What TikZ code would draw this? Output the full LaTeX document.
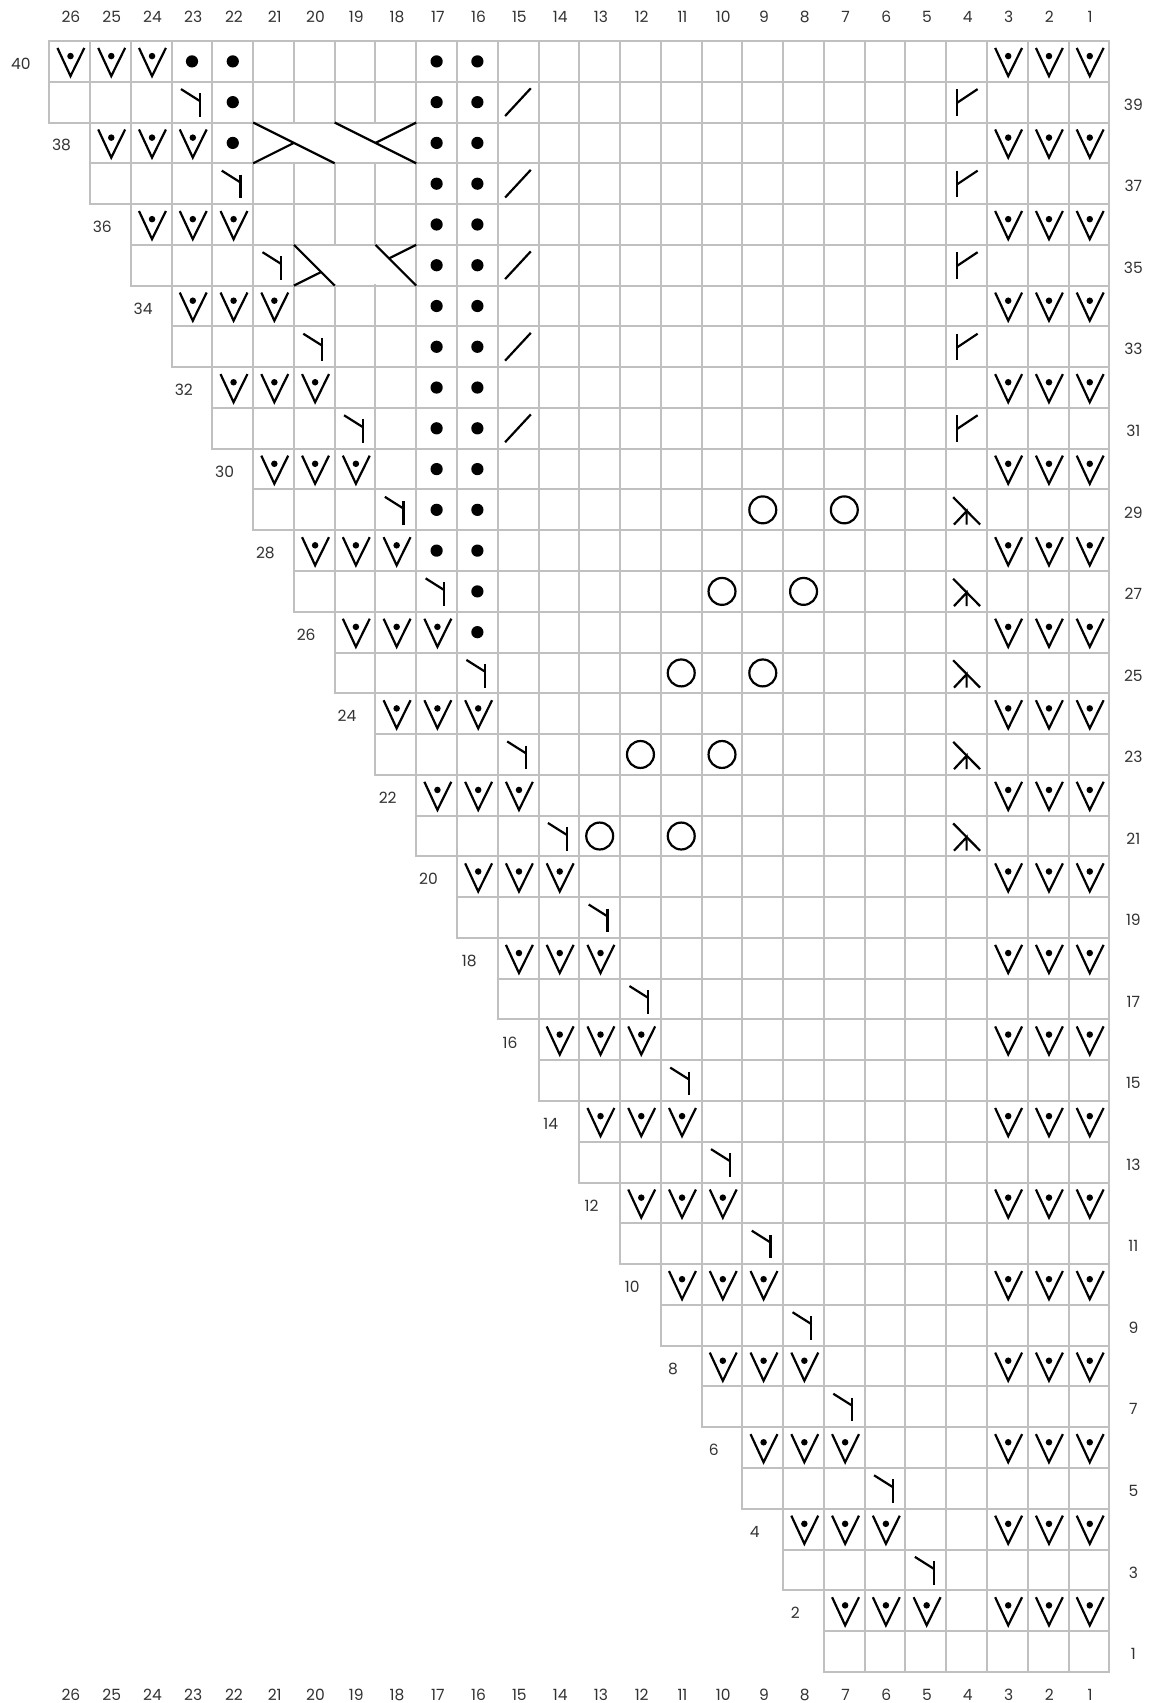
\documentclass[tikz,border=0pt]{standalone}
\usepackage{fontspec}
\setmainfont{Poppins}
\definecolor{gridgray}{RGB}{192,192,192}
\definecolor{labgray}{RGB}{50,50,50}
\begin{document}
\begin{tikzpicture}[x=40.77pt,y=-40.77pt,
  cellbox/.style={draw=gridgray,line width=2pt},
  symline/.style={line width=2.2pt,draw=black},
  lab/.style={font=\fontsize{15.5}{18}\selectfont,text=labgray,inner sep=0pt},
  vdot/.pic={\draw[symline] (0.2,0.17) -- (0.52,0.86) -- (0.86,0.17); \fill[black] (0.52,0.37) circle (0.08);},
  purldot/.pic={\fill[black] (0.5,0.5) circle (0.15);},
  decy/.pic={\draw[symline] (0.23,0.18) -- (0.69,0.47); \draw[symline] (0.69,0.28) -- (0.69,0.86);},
  leanl/.pic={\draw[symline] (0.26,0.18) -- (0.26,0.83); \draw[symline] (0.26,0.52) -- (0.77,0.18);},
  skp/.pic={\draw[symline] (0.17,0.19) -- (0.83,0.86); \draw[symline] (0.19,0.86) -- (0.5,0.53) -- (0.5,0.86);},
  pslash/.pic={\draw[symline] (0.18,0.84) -- (0.81,0.16);},
  yo/.pic={\draw[symline] (0.5,0.5) circle (0.33);}
]
\useasboundingbox[fill=white] (-49.3pt,41pt) rectangle (1105.7pt,-1662pt);

% grid
\foreach \j in {0,...,39}{
  \pgfmathtruncatemacro\s{floor(\j/2)}
  \foreach \i in {\s,...,25}{
    \draw[cellbox] (\i,\j) rectangle ++(1,1);
  }
}
% merged cable cells
\fill[white] (5.03,2.03) rectangle (8.97,2.97);
\fill[white] (6.03,5.03) rectangle (8.97,5.97);

% cable row 38
\draw[symline] (5,2) -- (7,3);
\draw[symline] (5,3) -- (6,2.5);
\draw[symline] (7,2) -- (9,3);
\draw[symline] (9,2) -- (8,2.5);
% cable row 35
\draw[symline] (6,5) -- (7,6);
\draw[symline] (6,6) -- (6.667,5.667);
\draw[symline] (8,5) -- (9,6);
\draw[symline] (9,5) -- (8.333,5.333);

% V with dot
\foreach \j in {0,2,...,38}{
  \pgfmathtruncatemacro\a{\j/2}
  \pic at (\a,\j) {vdot};
  \pic at (\a+1,\j) {vdot};
  \pic at (\a+2,\j) {vdot};
  \pic at (23,\j) {vdot};
  \pic at (24,\j) {vdot};
  \pic at (25,\j) {vdot};
}
% decreases
\foreach \j in {1,3,...,37}{
  \pgfmathtruncatemacro\a{floor(\j/2)+3}
  \pic at (\a,\j) {decy};
}
% purl dots
\foreach \p in {(3,0),(4,0),(4,1),(4,2),(10,13),(10,14)}{
  \pic at \p {purldot};
}
\foreach \j in {0,...,12}{
  \pic at (9,\j) {purldot};
  \pic at (10,\j) {purldot};
}
% slashes and col 4 symbols
\foreach \j in {1,3,5,7,9}{
  \pic at (11,\j) {pslash};
  \pic at (22,\j) {leanl};
}
\foreach \j in {11,13,15,17,19}{
  \pic at (22,\j) {skp};
}
% yarn overs
\foreach \p in {(17,11),(19,11),(16,13),(18,13),(15,15),(17,15),(14,17),(16,17),(13,19),(15,19)}{
  \pic at \p {yo};
}

% column labels
\foreach \i in {0,...,25}{
  \pgfmathtruncatemacro\n{26-\i}
  \node[lab] (top\n) at (\i+0.53,-0.584) {\n};
  \node[lab] (bot\n) at (\i+0.53,40.57) {\n};
}
% even row labels (left)
\foreach \j in {0,2,...,38}{
  \pgfmathtruncatemacro\n{40-\j}
  \pgfmathsetmacro\xx{\j/2-0.70}
  \node[lab] (rl\n) at (\xx,\j+0.56) {\n};
}
% odd row labels (right)
\foreach \j in {1,3,...,39}{
  \pgfmathtruncatemacro\n{40-\j}
  \node[lab] (rr\n) at (26.59,\j+0.56) {\n};
}
\end{tikzpicture}
\end{document}
